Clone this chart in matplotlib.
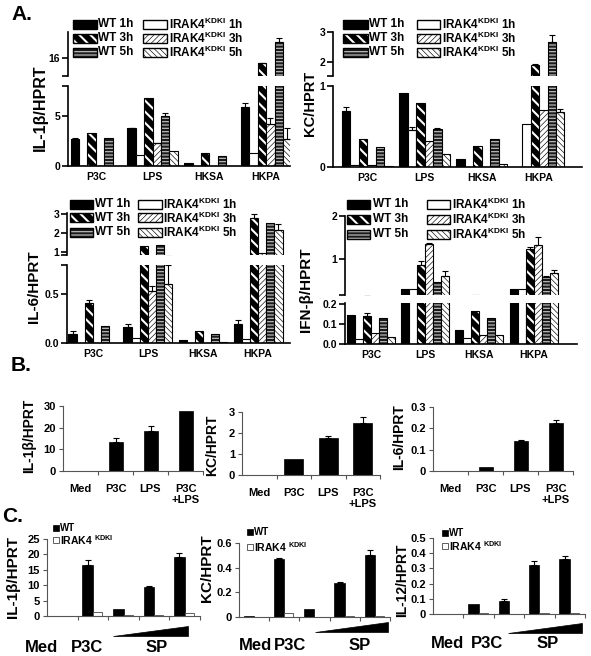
import matplotlib
matplotlib.use('Agg')
import matplotlib.pyplot as plt
from matplotlib.patches import Rectangle, Polygon
import numpy as np

plt.rcParams['font.family'] = ['Liberation Sans', 'DejaVu Sans']
plt.rcParams['font.weight'] = 'bold'
plt.rcParams['mathtext.fontset'] = 'custom'
plt.rcParams['mathtext.rm'] = 'Liberation Sans:bold'
plt.rcParams['mathtext.bf'] = 'Liberation Sans:bold'
plt.rcParams['mathtext.default'] = 'bf'
plt.rcParams['axes.linewidth'] = 1.2

# ---------------- data ----------------
a_groups = ['P3C', 'LPS', 'HKSA', 'HKPA']
a_wt_labels = ['WT 1h', 'WT 3h', 'WT 5h']
a_kd_labels = [r'IRAK4$^{KDKI}$ 1h', r'IRAK4$^{KDKI}$ 3h', r'IRAK4$^{KDKI}$ 5h']
# rows: WT1h, KDKI1h, WT3h, KDKI3h, WT5h, KDKI5h ; cols: P3C, LPS, HKSA, HKPA
il1b_a = [[2.73, 3.8, 0.33, 5.9],
          [0.02, 1.13, 0.02, 1.3],
          [3.33, 6.83, 1.33, 15.0],
          [0.02, 2.3, 0.02, 4.23],
          [2.8, 5.0, 0.97, 19.1],
          [0.02, 1.5, 0.02, 2.67]]
il1b_a_err = [[0.05, 0.05, 0, 0.4],
              [0, 0, 0, 0],
              [0, 0, 0, 0.1],
              [0, 0.05, 0, 0.55],
              [0, 0.3, 0, 0.7],
              [0, 0, 0, 1.1]]
kc_a = [[0.69, 0.91, 0.095, 0.0],
        [0.02, 0.46, 0.0, 0.53],
        [0.35, 0.79, 0.26, 1.9],
        [0.02, 0.32, 0.0, 0.70],
        [0.25, 0.475, 0.35, 2.68],
        [0.01, 0.165, 0.04, 0.68]]
kc_a_err = [[0.05, 0, 0, 0],
            [0, 0.03, 0, 0],
            [0, 0, 0, 0.04],
            [0, 0, 0, 0],
            [0, 0.01, 0, 0.23],
            [0, 0, 0, 0.04]]
il6_a = [[0.09, 0.16, 0.03, 0.2],
         [0.0, 0.05, 0.0, 0.045],
         [0.41, 1.3, 0.12, 2.79],
         [0.0, 0.53, 0.0, 0.95],
         [0.17, 1.35, 0.095, 2.54],
         [0.0, 0.61, 0.01, 2.18]]
il6_a_err = [[0.03, 0.03, 0, 0.04],
             [0, 0, 0, 0],
             [0.03, 0, 0, 0.22],
             [0, 0.05, 0, 0],
             [0, 0, 0, 0],
             [0, 0.19, 0, 0.31]]
ifnb_a = [[0.144, 0.315, 0.072, 0.32],
          [0.026, 0.31, 0.03, 0.30],
          [0.14, 0.87, 0.166, 1.23],
          [0.055, 1.35, 0.043, 1.33],
          [0.132, 0.46, 0.132, 0.58],
          [0.037, 0.62, 0.043, 0.69]]
ifnb_a_err = [[0, 0, 0, 0],
              [0, 0, 0, 0],
              [0.017, 0.09, 0, 0.05],
              [0, 0.03, 0, 0.19],
              [0, 0, 0, 0.03],
              [0, 0.11, 0, 0.06]]

b_cats = ['Med', 'P3C', 'LPS', 'P3C\n+LPS']
il1b_b = [0.15, 13.2, 18.5, 27.8]
il1b_b_err = [0, 2.2, 2.5, 0]
kc_b = [0.01, 0.78, 1.75, 2.5]
kc_b_err = [0, 0, 0.1, 0.25]
il6_b = [0.002, 0.02, 0.14, 0.225]
il6_b_err = [0, 0, 0.005, 0.012]

c_cats = ['Med', 'P3C', 'SP1', 'SP2', 'SP3']
il1b_c_wt = [0.1, 16.6, 2.3, 9.5, 19.3]
il1b_c_wt_err = [0, 1.6, 0, 0.2, 1.0]
il1b_c_kd = [0.05, 1.4, 0.3, 0.4, 0.9]
kc_c_wt = [0.005, 0.47, 0.065, 0.275, 0.50]
kc_c_wt_err = [0, 0.008, 0, 0.01, 0.04]
kc_c_kd = [0.003, 0.03, 0.003, 0.01, 0.01]
il12_c_wt = [0.003, 0.065, 0.087, 0.325, 0.365]
il12_c_wt_err = [0, 0, 0.012, 0.025, 0.015]
il12_c_kd = [0.002, 0.008, 0.003, 0.004, 0.004]

# ---------------- layout helpers ----------------
W, H = 591, 656
fig = plt.figure(figsize=(W / 100, H / 100), dpi=100)


def box(l, t, r, b):
    return [l / W, 1 - b / H, (r - l) / W, (b - t) / H]


def fx(px):
    return px / W


def fy(py):
    return 1 - py / H


STYLES = [
    dict(face='black', hatch=None, hc='black', hlw=1.0),
    dict(face='white', hatch=None, hc='white', hlw=1.0),
    dict(face='black', hatch='\\\\\\', hc='white', hlw=1.5),
    dict(face='white', hatch='//////', hc='black', hlw=0.45),
    dict(face='#1a1a1a', hatch='-----', hc='#b8b8b8', hlw=0.9),
    dict(face='white', hatch='\\\\\\\\\\\\', hc='black', hlw=0.45),
]


def styled_bar(ax, x, h, width, st):
    with plt.rc_context({'hatch.linewidth': st['hlw']}):
        bars = ax.bar(x, h, width=width, color=st['face'], edgecolor=st['hc'],
                      hatch=st['hatch'], linewidth=0)
        for p in bars:
            if hasattr(p, 'set_hatch_linewidth'):
                p.set_hatch_linewidth(st['hlw'])
    ax.bar(x, h, width=width, fill=False, edgecolor='black', linewidth=0.8)


def swatch(l, t, r, b, st):
    with plt.rc_context({'hatch.linewidth': st['hlw']}):
        p = Rectangle((fx(l), fy(b)), (r - l) / W, (b - t) / H, transform=fig.transFigure,
                      facecolor=st['face'], edgecolor=st['hc'], hatch=st['hatch'], linewidth=0)
        if hasattr(p, 'set_hatch_linewidth'):
            p.set_hatch_linewidth(st['hlw'])
    fig.add_artist(p)
    fig.add_artist(Rectangle((fx(l), fy(b)), (r - l) / W, (b - t) / H, transform=fig.transFigure,
                             fill=False, edgecolor='black', linewidth=1.0))


def errs(ax, x, v, e, lw=0.8, cap=2):
    x = np.asarray(x); v = np.asarray(v, float); e = np.asarray(e, float)
    m = e > 0
    if m.any():
        ax.errorbar(x[m], v[m], yerr=[np.zeros(m.sum()), e[m]], fmt='none', ecolor='black',
                    elinewidth=lw, capsize=cap, capthick=lw)


BW = 0.148


def panel_a(vals, evals, l, r, top_tb, bot_tb, xlim, tylim, bylim, tt, tl, bt, bl,
            ylabel, ylab_xy, ylab_fs, leg):
    axt = fig.add_axes(box(l, top_tb[0], r, top_tb[1]))
    axb = fig.add_axes(box(l, bot_tb[0], r, bot_tb[1]))
    x0 = np.arange(len(a_groups))
    for ax in (axt, axb):
        for j in range(6):
            xs = x0 + (j - 2.5) * BW
            styled_bar(ax, xs, vals[j], BW, STYLES[j])
            errs(ax, xs, vals[j], evals[j])
        ax.set_xlim(*xlim)
        for s in ('top', 'right'):
            ax.spines[s].set_visible(False)
        ax.tick_params(axis='y', direction='out', length=4, width=1.2, labelsize=7.5, pad=1.5)
        ax.patch.set_alpha(0)
    axt.set_ylim(*tylim)
    axb.set_ylim(*bylim)
    axt.spines['bottom'].set_visible(False)
    axt.set_xticks([])
    axt.set_yticks(tt)
    axt.set_yticklabels(tl)
    axb.set_yticks(bt)
    axb.set_yticklabels(bl)
    axb.set_xticks(x0)
    axb.set_xticklabels(a_groups, fontsize=7.5, fontweight='bold')
    axb.tick_params(axis='x', length=0, pad=4)
    fig.text(fx(ylab_xy[0]), fy(ylab_xy[1]), ylabel, rotation=90, ha='center', va='center',
             fontsize=ylab_fs, fontweight='bold')
    # legend
    c1, c2, rows, t1, t2 = leg
    for i, ry in enumerate(rows):
        swatch(c1[0], ry - 4.5, c1[1], ry + 4.5, STYLES[2 * i])
        fig.text(fx(t1), fy(ry), a_wt_labels[i], ha='left', va='center', fontsize=8.5, fontweight='bold')
        swatch(c2[0], ry - 4.5, c2[1], ry + 4.5, STYLES[2 * i + 1])
        fig.text(fx(t2), fy(ry + 0.5), a_kd_labels[i], ha='left', va='center', fontsize=8.5,
                 fontweight='bold')


panel_a(il1b_a, il1b_a_err, 68, 290, (32, 76), (86, 166), (-0.49, 3.42), (12.5, 21), (0, 8),
        [12.5, 16], ['', '16'], [0, 5, 8], ['0', '5', ''],
        'IL-1β/HPRT', (40, 108), 11.5,
        ((73, 97), (143, 167), (24, 38, 52), 98, 169))
panel_a(kc_a, kc_a_err, 333, 582, (32, 76), (86, 167), (-0.6, 3.75), (1.53, 3.0), (0, 1),
        [1.53, 2, 3], ['', '2', '3'], [0, 1], ['0', '1'],
        'KC/HPRT', (310, 103), 10.5,
        ((343, 368), (417, 440), (24, 38, 52), 369, 442))
panel_a(il6_a, il6_a_err, 67, 290, (213, 255), (265, 343), (-0.47, 3.58), (0.85, 3.05), (0, 0.8),
        [0.85, 1, 2, 3], ['', '1', '2', '3'], [0, 0.5, 0.8], ['0.0', '0.5', ''],
        'IL-6/HPRT', (34, 287), 11,
        ((70, 93), (138, 162), (204, 218, 232), 95, 163))
panel_a(ifnb_a, ifnb_a_err, 345, 577, (216, 295), (303, 344), (-0.48, 3.8), (0.17, 2.0), (0, 0.205),
        [0.17, 1, 2], ['', '1', '2'], [0, 0.1, 0.2], ['0.0', '0.1', '0.2'],
        'IFN-β/HPRT', (306, 290), 11,
        ((347, 370), (427, 450), (204, 219, 234), 373, 452))


# ---------------- panel B ----------------
def panel_b(vals, ev, l, t, r, b, ylim, yt, ytl, width, ylabel, ylab_xy):
    ax = fig.add_axes(box(l, t, r, b))
    x = np.arange(len(b_cats))
    ax.bar(x, vals, width=width, color='black', edgecolor='black', linewidth=0.5)
    errs(ax, x, vals, ev, lw=0.8, cap=2.5)
    ax.set_xlim(-0.5, len(b_cats) - 0.5)
    ax.set_ylim(*ylim)
    ax.set_yticks(yt)
    ax.set_yticklabels(ytl)
    ax.set_xticks(x)
    ax.set_xticklabels(b_cats, fontsize=8, fontweight='bold', linespacing=1.15)
    ax.set_xticks(np.arange(len(b_cats)) + 0.5, minor=True)
    ax.tick_params(axis='x', which='major', length=0, pad=9)
    ax.tick_params(axis='x', which='minor', length=3, width=0.8, direction='out', color='#555555')
    ax.tick_params(axis='y', length=3, width=0.8, labelsize=8, pad=2, color='#555555')
    for s in ('top', 'right'):
        ax.spines[s].set_visible(False)
    for s in ('left', 'bottom'):
        ax.spines[s].set_linewidth(0.8)
        ax.spines[s].set_color('#555555')
    fig.text(fx(ylab_xy[0]), fy(ylab_xy[1]), ylabel, rotation=90, ha='center', va='center',
             fontsize=10, fontweight='bold')


panel_b(il1b_b, il1b_b_err, 63, 406, 203, 471, (0, 30), [0, 10, 20, 30], ['0', '10', '20', '30'], 0.4,
        'IL-1β/HPRT', (29, 436))
panel_b(kc_b, kc_b_err, 242, 412, 380, 475, (0, 3), [0, 1, 2, 3], ['0', '1', '2', '3'], 0.55,
        'KC/HPRT', (212, 445))
panel_b(il6_b, il6_b_err, 433, 407, 573, 471, (0, 0.3), [0, 0.1, 0.2, 0.3], ['0', '0.1', '0.2', '0.3'], 0.4,
        'IL-6/HPRT', (399, 437))


# ---------------- panel C ----------------
def panel_c(wt, wte, kd, l, t, r, b, ylim, yt, ytl, ylabel, ylab_xy, ylab_fs, leg, wedge, labs):
    ax = fig.add_axes(box(l, t, r, b))
    x = np.arange(len(c_cats))
    ax.bar(x - 0.17, wt, width=0.34, color='black', edgecolor='black', linewidth=0.5)
    ax.bar(x + 0.15, kd, width=0.3, color='white', edgecolor='#444444', linewidth=0.6)
    errs(ax, x - 0.17, wt, wte, lw=0.8, cap=2.5)
    ax.set_xlim(-0.5, len(c_cats) - 0.5)
    ax.set_ylim(*ylim)
    ax.set_yticks(yt)
    ax.set_yticklabels(ytl)
    ax.set_xticks(np.arange(len(c_cats)) + 0.5)
    ax.set_xticklabels([])
    ax.tick_params(axis='x', length=3, width=0.8, direction='out', color='#555555')
    ax.tick_params(axis='y', length=3, width=0.8, labelsize=8, pad=2, color='#555555')
    for s in ('top', 'right'):
        ax.spines[s].set_visible(False)
    for s in ('left', 'bottom'):
        ax.spines[s].set_linewidth(0.8)
        ax.spines[s].set_color('#555555')
    fig.text(fx(ylab_xy[0]), fy(ylab_xy[1]), ylabel, rotation=90, ha='center', va='center',
             fontsize=ylab_fs, fontweight='bold')
    # legend
    sx, y1, y2 = leg
    fig.add_artist(Rectangle((fx(sx), fy(y1 + 3)), 6 / W, 6 / H, transform=fig.transFigure,
                             facecolor='black', edgecolor='black', linewidth=0.5))
    fig.add_artist(Rectangle((fx(sx), fy(y2 + 3)), 6 / W, 6 / H, transform=fig.transFigure,
                             facecolor='white', edgecolor='#444444', linewidth=0.6))
    fig.text(fx(sx + 7), fy(y1), 'WT', ha='left', va='center', fontsize=7, fontweight='bold')
    fig.text(fx(sx + 7), fy(y2), r'IRAK4 $^{KDKI}$', ha='left', va='center', fontsize=7.5, fontweight='bold')
    # wedge
    x0, x1, yb, yt_ = wedge
    fig.add_artist(Polygon([(fx(x0), fy(yb)), (fx(x1), fy(yb)), (fx(x1), fy(yt_))], closed=True,
                           transform=fig.transFigure, facecolor='black', edgecolor='black', linewidth=0.5))
    (mx, px_, spx, ly) = labs
    for s, xx in (('Med', mx), ('P3C', px_), ('SP', spx)):
        fig.text(fx(xx), fy(ly), s, ha='center', va='center', fontsize=12, fontweight='bold')


panel_c(il1b_c_wt, il1b_c_wt_err, il1b_c_kd, 47, 539, 200, 616, (0, 25), [0, 5, 10, 15, 20, 25],
        ['0', '5', '10', '15', '20', '25'], 'IL-1β/HPRT', (13, 577), 11,
        (53, 528, 540), (113, 188, 636, 626), (42, 87, 157, 648))
panel_c(kc_c_wt, kc_c_wt_err, kc_c_kd, 239, 543, 390, 617, (0, 0.6), [0, 0.2, 0.4, 0.6],
        ['0', '0.2', '0.4', '0.6'], 'KC/HPRT', (207, 568), 11,
        (247, 532, 547), (315, 388, 632, 622), (255, 290, 360, 645))
panel_c(il12_c_wt, il12_c_wt_err, il12_c_kd, 433, 538, 585, 614, (0, 0.5), [0, 0.1, 0.2, 0.3, 0.4, 0.5],
        ['0', '0.1', '0.2', '0.3', '0.4', '0.5'], 'IL-12/HPRT', (402, 580), 10,
        (442, 533, 546), (508, 582, 633, 623), (447, 487, 548, 644))

# panel letters
fig.text(fx(11), fy(5), 'A.', ha='left', va='top', fontsize=15, fontweight='bold')
fig.text(fx(11), fy(356), 'B.', ha='left', va='top', fontsize=15, fontweight='bold')
fig.text(fx(2), fy(507), 'C.', ha='left', va='top', fontsize=15, fontweight='bold')

fig.savefig('out.png', dpi=100)
